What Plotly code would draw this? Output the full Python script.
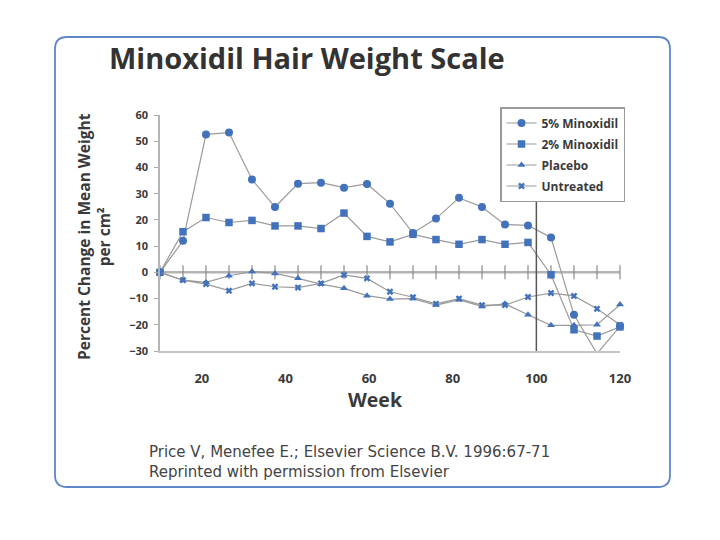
import plotly.graph_objects as go

# weeks of the visits (21 readings, 10 to 120)
weeks = [10, 15.5, 21, 26.5, 32, 37.5, 43, 48.5, 54, 59.5, 65,
         70.5, 76, 81.5, 87, 92.5, 98, 103.5, 109, 114.5, 120]

minox_5 = [0, 12, 52.6, 53.3, 35.4, 24.9, 33.8, 34.2, 32.3, 33.7, 26.2,
           15, 20.5, 28.4, 24.9, 18.2, 17.9, 13.3, -16.2, -31, -20.6]
minox_2 = [0, 15.5, 20.9, 19, 19.8, 17.7, 17.7, 16.7, 22.6, 13.7, 11.6,
           14.5, 12.5, 10.7, 12.5, 10.7, 11.4, -0.9, -21.9, -24.3, -20.8]
placebo = [0, -3, -3.8, -1.3, 0.3, -0.4, -2.3, -4.5, -6.1, -8.9, -10.2,
           -10, -12.5, -10.5, -13, -12, -16.2, -20.2, -20.2, -20, -12.3]
untreated = [0, -3, -4.5, -7, -4.2, -5.5, -5.8, -4.2, -1, -2.3, -7.4,
             -9.5, -12, -10, -12.5, -12.5, -9.4, -7.9, -9, -13.9, -20]

x_ticks = [20, 40, 60, 80, 100, 120]
y_ticks = [-30, -20, -10, 0, 10, 20, 30, 40, 50, 60]
cutoff_week = 100

BLUE = "#4272bb"
GREY = "#9a9a9a"
TEXT = "#3a3a3a"
FONT = "Open Sans"

# the page is drawn with an 8px body margin
OFF = 8
# plot area in picture pixels
L, R, T, B = 160, 620, 115, 351


def px(x):
    return (x - L) / (R - L)


def py(y):
    return (B - y) / (B - T)


fig = go.Figure()

# category axis drawn at zero with its tick marks
fig.add_trace(go.Scatter(
    x=weeks, y=[0] * len(weeks), mode="lines+markers", showlegend=False,
    hoverinfo="skip", cliponaxis=False,
    line=dict(color="#b3b3b3", width=2.5),
    marker=dict(symbol="line-ns", size=10, line=dict(color="#8a8a8a", width=1.2)),
))

series = [
    ("5% Minoxidil", minox_5, "circle", 8),
    ("2% Minoxidil", minox_2, "square", 7.5),
    ("Placebo", placebo, "triangle-up", 7),
    ("Untreated", untreated, "x", 6),
]
for name, vals, sym, size in series:
    fig.add_trace(go.Scatter(
        x=weeks, y=vals, name=name, legendgroup=name, mode="lines+markers",
        cliponaxis=False,
        line=dict(color=GREY, width=1.2),
        marker=dict(symbol=sym, size=size, color=BLUE),
    ))

# rounded frame around the slide
x0, x1, y0, y1 = px(55), px(670), py(487), py(37)
rx, ry = 12 / (R - L), 12 / (B - T)
frame = (f"M {x0 + rx},{y1} L {x1 - rx},{y1} Q {x1},{y1} {x1},{y1 - ry} "
         f"L {x1},{y0 + ry} Q {x1},{y0} {x1 - rx},{y0} "
         f"L {x0 + rx},{y0} Q {x0},{y0} {x0},{y0 + ry} "
         f"L {x0},{y1 - ry} Q {x0},{y1} {x0 + rx},{y1} Z")

fig.update_layout(
    width=720, height=540,
    paper_bgcolor="white", plot_bgcolor="white",
    margin=dict(l=L - OFF, r=720 - R + OFF, t=T - OFF, b=540 - B + OFF,
                pad=0, autoexpand=False),
    font=dict(family=FONT, color=TEXT),
    shapes=[
        dict(type="path", path=frame, xref="paper", yref="paper",
             line=dict(color="#5f87c8", width=1.8), layer="below"),
        dict(type="line", xref="x", yref="y", x0=cutoff_week, x1=cutoff_week,
             y0=-30, y1=60, line=dict(color="#555555", width=1.5)),
    ],
    legend=dict(
        x=px(625), y=py(107), xanchor="right", yanchor="top",
        bgcolor="white", bordercolor="#9a9a9a", borderwidth=1.5,
        font=dict(family=FONT, size=12, color=TEXT, weight="bold"),
        itemwidth=30, tracegroupgap=2,
    ),
    annotations=[
        dict(text="<b>Minoxidil Hair Weight Scale</b>", x=px(107), y=py(57),
             xref="paper", yref="paper", xanchor="left", yanchor="middle",
             showarrow=False, font=dict(family=FONT, size=29, color="#333333")),
        dict(text="<b>Percent Change in Mean Weight<br>per cm²</b>",
             x=px(94), y=py(237), xref="paper", yref="paper", textangle=-90,
             xanchor="center", yanchor="middle", showarrow=False,
             font=dict(family=FONT, size=15.5, color=TEXT)),
        dict(text="<b>Week</b>", x=px(375), y=py(399), xref="paper", yref="paper",
             xanchor="center", yanchor="middle", showarrow=False,
             font=dict(family=FONT, size=19.5, color=TEXT)),
        dict(text="Price V, Menefee E.; Elsevier Science B.V. 1996:67-71<br>"
                  "Reprinted with permission from Elsevier",
             x=px(147), y=py(462), xref="paper", yref="paper", align="left",
             xanchor="left", yanchor="middle", showarrow=False,
             font=dict(family="DejaVu Sans", size=15, color="#444444")),
    ],
)

fig.update_xaxes(
    range=[10, 120], tickvals=x_ticks, ticks="", showgrid=False, zeroline=False,
    showline=True, linecolor="#c4c4c4", linewidth=1.5, ticklabelstandoff=15,
    tickfont=dict(family=FONT, size=13, color=TEXT, weight="bold"),
)
fig.update_yaxes(
    range=[-30, 60], tickvals=y_ticks, ticks="outside", ticklen=4,
    tickcolor="#aaaaaa", showgrid=False, zeroline=False,
    showline=True, linecolor="#b5b5b5", linewidth=1.5, ticklabelstandoff=4,
    tickfont=dict(family=FONT, size=11, color=TEXT, weight="bold"),
)

fig.write_html("out.html")
